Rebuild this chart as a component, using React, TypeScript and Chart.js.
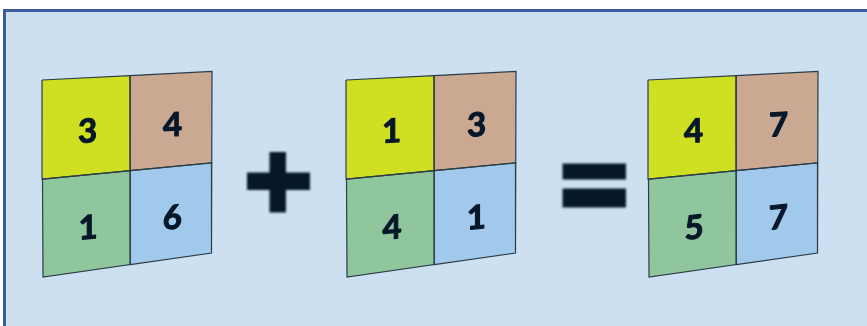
import React, { useEffect, useRef } from "react";
import { Chart, registerables } from "chart.js";

Chart.register(...registerables);

// ---- data ----
const matrixA = [
  [3, 4],
  [1, 6],
];
const matrixB = [
  [1, 3],
  [4, 1],
];
const matrixC = [
  [4, 7],
  [5, 7],
];
const operators = ["+", "="];
const cellColors = [
  ["#cfe022", "#cba891"],
  ["#8fc69d", "#a1c9eb"],
];

// ---- layout (not data) ----
const W = 867;
const H = 326;
const ORIGINS = [42, 346, 648];
const TL = [0, 80];
const TR = [170, 71.5];
const BR = [169.5, 253];
const BL = [1, 277];
const COL_SPLIT = 0.518;
const ROW_SPLIT = 0.503;
const INK = "#07172a";

const lerp = (a: number, b: number, f: number) => a + (b - a) * f;
function quadPoint(ox: number, s: number, t: number): [number, number] {
  const tx = lerp(TL[0], TR[0], s);
  const ty = lerp(TL[1], TR[1], s);
  const bx = lerp(BL[0], BR[0], s);
  const by = lerp(BL[1], BR[1], s);
  return [ox + lerp(tx, bx, t), lerp(ty, by, t)];
}

function buildDatasets() {
  const mats = [matrixA, matrixB, matrixC];
  const ds: any[] = [];
  mats.forEach((m, mi) => {
    const ox = ORIGINS[mi];
    m.forEach((row, r) => {
      row.forEach((val, c) => {
        const s0 = c === 0 ? 0 : COL_SPLIT;
        const s1 = c === 0 ? COL_SPLIT : 1;
        const t0 = r === 0 ? 0 : ROW_SPLIT;
        const t1 = r === 0 ? ROW_SPLIT : 1;
        const pts = [
          quadPoint(ox, s0, t0),
          quadPoint(ox, s1, t0),
          quadPoint(ox, s1, t1),
          quadPoint(ox, s0, t1),
          quadPoint(ox, s0, t0),
        ];
        const center = quadPoint(ox, (s0 + s1) / 2, (t0 + t1) / 2);
        const tm = (t0 + t1) / 2;
        const topSlope = (TR[1] - TL[1]) / (TR[0] - TL[0]);
        const botSlope = (BR[1] - BL[1]) / (BR[0] - BL[0]);
        ds.push({
          type: "scatter",
          data: pts.map(([x, y]) => ({ x, y })),
          showLine: true,
          borderColor: "#2c3c46",
          borderWidth: 1.2,
          pointRadius: 0,
          pointHoverRadius: 0,
          fill: false,
          backgroundColor: cellColors[r][c],
          cellValue: val,
          cellCenter: { x: center[0], y: center[1] },
          cellSlope: lerp(topSlope, botSlope, tm) * 0.8,
        });
      });
    });
  });
  return ds;
}

const backgroundPlugin = {
  id: "bgFrame",
  beforeDraw(chart: any) {
    const { ctx } = chart;
    const sx = chart.scales.x;
    const sy = chart.scales.y;
    const px = (v: number) => sx.getPixelForValue(v);
    const py = (v: number) => sy.getPixelForValue(v);
    ctx.save();
    ctx.fillStyle = "#ffffff";
    ctx.fillRect(0, 0, chart.width, chart.height);
    ctx.fillStyle = "#3d5c9c";
    ctx.fillRect(px(3), py(9), px(W) - px(3), py(H) - py(9));
    ctx.fillStyle = "#cde0f1";
    ctx.fillRect(px(6), py(12), px(W) - px(6), py(H) - py(12));
    ctx.restore();
  },
};

const cellFillPlugin = {
  id: "cellFill",
  beforeDatasetsDraw(chart: any) {
    const { ctx } = chart;
    chart.data.datasets.forEach((d: any, i: number) => {
      const meta = chart.getDatasetMeta(i);
      const pts = meta.data;
      if (!pts.length) return;
      ctx.save();
      ctx.beginPath();
      ctx.moveTo(pts[0].x, pts[0].y);
      for (let k = 1; k < pts.length; k++) ctx.lineTo(pts[k].x, pts[k].y);
      ctx.closePath();
      ctx.fillStyle = d.backgroundColor;
      ctx.fill();
      ctx.restore();
    });
  },
  afterDatasetsDraw(chart: any) {
    const { ctx } = chart;
    const sx = chart.scales.x;
    const sy = chart.scales.y;
    chart.data.datasets.forEach((d: any) => {
      const cx = sx.getPixelForValue(d.cellCenter.x) + 1.5;
      const cy = sy.getPixelForValue(d.cellCenter.y) + 4;
      ctx.save();
      ctx.translate(cx, cy);
      ctx.transform(1, d.cellSlope, 0, 1, 0, 0);
      ctx.font = "bold 33px Lato";
      ctx.fillStyle = INK;
      ctx.strokeStyle = INK;
      ctx.lineWidth = 1.1;
      ctx.lineJoin = "round";
      ctx.textAlign = "center";
      ctx.textBaseline = "alphabetic";
      ctx.fillText(String(d.cellValue), 0, 12);
      ctx.strokeText(String(d.cellValue), 0, 12);
      ctx.restore();
    });

    // operators between matrices
    const px = (v: number) => sx.getPixelForValue(v);
    const py = (v: number) => sy.getPixelForValue(v);
    const rect = (x0: number, y0: number, x1: number, y1: number) =>
      ctx.fillRect(px(x0), py(y0), px(x1) - px(x0), py(y1) - py(y0));
    ctx.save();
    ctx.fillStyle = INK;
    ctx.filter = "blur(1px)";
    operators.forEach((op) => {
      if (op === "+") {
        rect(247, 172.5, 310, 190);
        rect(269.5, 152, 286, 212.5);
      } else if (op === "=") {
        rect(562.5, 163.5, 626, 179.5);
        rect(562.5, 188.5, 626, 207.5);
      }
    });
    ctx.restore();
  },
};

export default function App() {
  const ref = useRef<HTMLCanvasElement | null>(null);
  useEffect(() => {
    if (!ref.current) return;
    const chart = new Chart(ref.current, {
      type: "scatter",
      data: { datasets: buildDatasets() },
      options: {
        animation: false,
        responsive: false,
        devicePixelRatio: 1,
        layout: { padding: 0 },
        events: [],
        scales: {
          x: { type: "linear", min: 0, max: W, display: false },
          y: { type: "linear", min: 0, max: H, reverse: true, display: false },
        },
        plugins: {
          legend: { display: false },
          tooltip: { enabled: false },
        },
      } as any,
      plugins: [backgroundPlugin, cellFillPlugin],
    });
    return () => chart.destroy();
  }, []);
  return (
    <div style={{ position: "fixed", left: 0, top: 0, width: W, height: H }}>
      <canvas ref={ref} width={W} height={H} style={{ display: "block" }} />
    </div>
  );
}
